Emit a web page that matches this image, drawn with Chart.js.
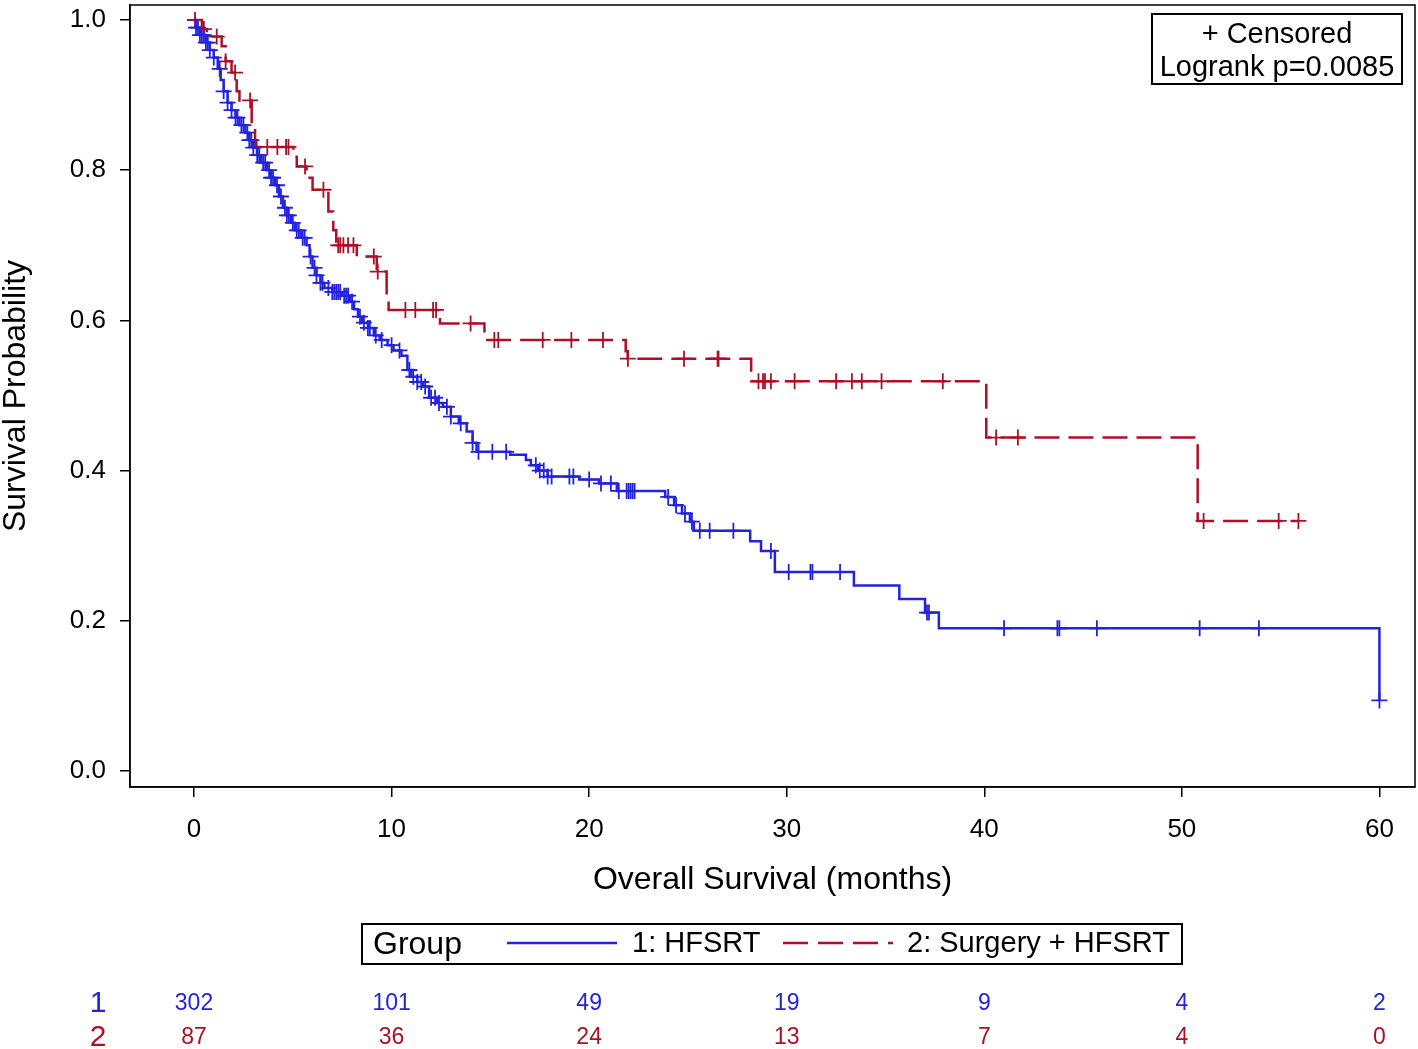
<!DOCTYPE html>
<html>
<head>
<meta charset="utf-8">
<script src="https://cdn.jsdelivr.net/npm/chart.js@4/dist/chart.umd.min.js"></script>
<style>
    html, body { margin: 0; padding: 0; background: #fff; }
    #wrap { width: 1418px; height: 1049px; position: relative; }
</style>
</head>
<body>
<div id="wrap"><canvas id="km" width="1418" height="1049"></canvas></div>
<script>
// group 1: HFSRT - event times (months) and survival after each step
var blueTimes = [0, 0.1, 0.3, 0.6, 0.8, 1.0, 1.2, 1.35, 1.5, 1.7, 1.9, 2.1, 2.3, 2.6, 2.8, 3.0, 3.2, 3.4, 3.7, 3.9, 4.1, 4.3, 4.5, 4.7, 4.9, 5.1, 5.4, 5.7, 5.85, 6.0, 6.2, 6.4, 6.6, 7.0, 7.5, 7.9, 8.1, 8.3, 8.5, 8.8, 9.1, 9.4, 9.8, 10.1, 10.5, 10.8, 11.0, 11.3, 11.6, 11.9, 12.3, 12.6, 13.0, 13.4, 13.8, 14.1, 14.3, 16.0, 16.8, 17.05, 17.4, 17.9, 19.5, 20.5, 21.4, 23.85, 24.3, 24.7, 25.1, 25.3, 28.15, 28.7, 29.4, 33.4, 35.7, 37.0, 37.7, 60.0];
var blueSurv = [1.0, 0.99, 0.98, 0.97, 0.96, 0.95, 0.935, 0.92, 0.905, 0.89, 0.88, 0.87, 0.86, 0.85, 0.84, 0.83, 0.82, 0.81, 0.80, 0.79, 0.78, 0.765, 0.75, 0.74, 0.73, 0.72, 0.71, 0.70, 0.685, 0.67, 0.66, 0.65, 0.643, 0.638, 0.633, 0.625, 0.615, 0.605, 0.597, 0.59, 0.58, 0.574, 0.567, 0.56, 0.553, 0.534, 0.525, 0.518, 0.512, 0.497, 0.49, 0.485, 0.472, 0.463, 0.452, 0.437, 0.425, 0.421, 0.414, 0.407, 0.40, 0.392, 0.388, 0.383, 0.373, 0.365, 0.354, 0.343, 0.332, 0.320, 0.306, 0.293, 0.265, 0.247, 0.229, 0.211, 0.19, 0.094];
var blueCensor = [0.1, 0.2, 0.3, 0.4, 0.5, 0.6, 0.7, 0.8, 1.0, 1.3, 1.5, 1.7, 1.9, 2.1, 2.2, 2.4, 2.5, 2.7, 2.8, 2.9, 3.0, 3.2, 3.3, 3.5, 3.6, 3.8, 3.9, 4.0, 4.2, 4.4, 4.6, 4.7, 4.8, 5.0, 5.2, 5.3, 5.5, 5.6, 5.9, 6.1, 6.2, 6.4, 6.5, 6.8, 7.0, 7.1, 7.2, 7.3, 7.4, 7.6, 7.7, 7.8, 8.0, 8.4, 8.6, 8.8, 8.9, 9.2, 9.5, 10.0, 10.4, 10.9, 11.1, 11.3, 11.5, 11.7, 12.0, 12.2, 12.4, 12.8, 13.0, 13.5, 14.1, 14.4, 15.1, 15.8, 17.3, 17.5, 17.7, 17.9, 18.1, 19.0, 19.2, 20.0, 20.6, 21.1, 21.5, 21.9, 22.0, 22.1, 22.2, 22.3, 24.0, 24.4, 24.85, 25.2, 25.6, 26.1, 27.3, 29.2, 30.1, 31.2, 31.3, 32.7, 37.1, 37.2, 41.0, 43.7, 43.8, 45.7, 50.9, 53.9, 60.0];

// group 2: Surgery + HFSRT
var redTimes = [0, 0.4, 0.65, 1.4, 1.6, 1.9, 2.16, 2.3, 2.92, 3.09, 5.03, 5.2, 5.7, 6.0, 6.8, 7.05, 7.2, 8.24, 9.25, 9.75, 9.85, 12.45, 14.7, 21.85, 21.95, 28.2, 40.1, 50.8, 55.9];
var redSurv = [1.0, 0.988, 0.978, 0.965, 0.945, 0.93, 0.905, 0.893, 0.856, 0.831, 0.818, 0.805, 0.79, 0.774, 0.745, 0.72, 0.70, 0.685, 0.665, 0.632, 0.614, 0.596, 0.574, 0.559, 0.549, 0.519, 0.444, 0.333, 0.333];
var redCensor = [0.05, 0.5, 1.15, 1.6, 2.08, 2.84, 3.17, 3.71, 4.22, 4.66, 4.78, 5.62, 6.55, 7.3, 7.4, 7.56, 7.8, 8.07, 9.1, 9.3, 10.7, 11.2, 12.1, 12.25, 14.0, 15.2, 15.4, 17.65, 19.1, 20.7, 21.96, 24.8, 26.5, 26.55, 28.57, 28.8, 28.9, 29.2, 30.4, 32.5, 33.3, 33.8, 34.8, 37.9, 40.6, 41.7, 51.1, 54.9, 55.9];

var xTicks = [0, 10, 20, 30, 40, 50, 60];
var yTicks = [0, 0.2, 0.4, 0.6, 0.8, 1.0];
var riskBlue = [302, 101, 49, 19, 9, 4, 2];
var riskRed = [87, 36, 24, 13, 7, 4, 0];

var BLUE = "#2323dc";
var RED = "#ab1027";
var FONT = "'Liberation Sans', Arial, sans-serif";

function survAt(times, surv, t) {
    var s = surv[0];
    for (var i = 0; i < times.length; i++) {
        if (times[i] <= t) s = surv[i];
    }
    return s;
}

function curve(times, surv) {
    return times.map((t, i) => ({ x: t, y: surv[i] }));
}

function marks(censor, times, surv) {
    return censor.map(t => ({ x: t, y: survAt(times, surv, t) }));
}

var extras = {
    id: "extras",
    afterDraw(chart) {
        var ctx = chart.ctx;
        var a = chart.chartArea;
        var xs = chart.scales.x;
        ctx.save();

        // frame round the plot
        ctx.strokeStyle = "#000";
        ctx.lineWidth = 1.5;
        ctx.strokeRect(a.left, a.top, a.right - a.left, a.bottom - a.top);

        // censored / logrank box
        ctx.lineWidth = 2;
        ctx.strokeRect(1152, 14, 250, 70);
        ctx.fillStyle = "#000";
        ctx.font = "29px " + FONT;
        ctx.textAlign = "center";
        ctx.textBaseline = "middle";
        ctx.fillText("+ Censored", 1277, 35);
        ctx.fillText("Logrank p=0.0085", 1277, 68);

        // group legend
        ctx.strokeRect(362, 924, 820, 40);
        ctx.textAlign = "left";
        ctx.font = "32px " + FONT;
        ctx.fillText("Group", 373, 945);
        ctx.font = "29px " + FONT;
        ctx.fillText("1: HFSRT", 632, 944);
        ctx.fillText("2: Surgery + HFSRT", 907, 944);
        ctx.lineWidth = 2.5;
        ctx.strokeStyle = BLUE;
        ctx.beginPath();
        ctx.moveTo(507, 943);
        ctx.lineTo(617, 943);
        ctx.stroke();
        ctx.strokeStyle = RED;
        ctx.setLineDash([25, 10]);
        ctx.beginPath();
        ctx.moveTo(783, 943);
        ctx.lineTo(893, 943);
        ctx.stroke();
        ctx.setLineDash([]);

        // number at risk
        ctx.textAlign = "center";
        ctx.font = "30px " + FONT;
        ctx.fillStyle = BLUE;
        ctx.fillText("1", 98, 1004);
        ctx.fillStyle = RED;
        ctx.fillText("2", 98, 1038);
        ctx.font = "23px 'Liberation Sans Narrow', " + FONT;
        xTicks.forEach((v, i) => {
            var px = xs.getPixelForValue(v);
            ctx.fillStyle = BLUE;
            ctx.fillText(String(riskBlue[i]), px, 1004);
            ctx.fillStyle = RED;
            ctx.fillText(String(riskRed[i]), px, 1038);
        });
        ctx.restore();
    }
};

new Chart(document.getElementById("km"), {
    type: "scatter",
    data: {
        datasets: [
            {
                label: "1: HFSRT",
                data: curve(blueTimes, blueSurv),
                showLine: true,
                stepped: true,
                borderColor: BLUE,
                borderWidth: 2.5,
                pointRadius: 0
            },
            {
                label: "2: Surgery + HFSRT",
                data: curve(redTimes, redSurv),
                showLine: true,
                stepped: true,
                borderColor: RED,
                borderWidth: 2.5,
                borderDash: [25, 9],
                pointRadius: 0
            },
            {
                label: "censor 1",
                data: marks(blueCensor, blueTimes, blueSurv),
                showLine: false,
                pointStyle: "cross",
                pointRadius: 8,
                borderWidth: 1.8,
                borderColor: BLUE,
                backgroundColor: BLUE
            },
            {
                label: "censor 2",
                data: marks(redCensor, redTimes, redSurv),
                showLine: false,
                pointStyle: "cross",
                pointRadius: 8,
                borderWidth: 1.8,
                borderColor: RED,
                backgroundColor: RED
            }
        ]
    },
    options: {
        responsive: false,
        animation: false,
        layout: { autoPadding: false, padding: { left: 0, right: 3, top: 5, bottom: 149 } },
        plugins: {
            legend: { display: false },
            tooltip: { enabled: false }
        },
        scales: {
            x: {
                type: "linear",
                min: -3.24,
                max: 61.8,
                afterBuildTicks: s => { s.ticks = xTicks.map(v => ({ value: v })); },
                afterFit: s => { s.height = 113; s.paddingLeft = 0; s.paddingRight = 0; },
                grid: { drawOnChartArea: false, drawTicks: true, tickLength: 10, color: "#000", lineWidth: 1.5 },
                border: { display: true, color: "#000", width: 1.5 },
                ticks: { color: "#000", font: { family: FONT, size: 26 }, padding: 17, maxRotation: 0 },
                title: { display: true, text: "Overall Survival (months)", color: "#000", font: { family: FONT, size: 32, lineHeight: 1 }, padding: { top: 0, bottom: 4 } }
            },
            y: {
                type: "linear",
                min: -0.0213,
                max: 1.02,
                afterBuildTicks: s => { s.ticks = yTicks.map(v => ({ value: v })); },
                afterFit: s => { s.width = 130; s.paddingTop = 0; s.paddingBottom = 0; },
                grid: { drawOnChartArea: false, drawTicks: true, tickLength: 10, color: "#000", lineWidth: 1.5 },
                border: { display: true, color: "#000", width: 1.5 },
                ticks: { color: "#000", font: { family: FONT, size: 26 }, padding: 14, callback: v => v.toFixed(1) },
                title: { display: true, text: "Survival Probability", color: "#000", font: { family: FONT, size: 32, lineHeight: 1 }, padding: { top: 0, bottom: 0 } }
            }
        }
    },
    plugins: [extras]
});
</script>
</body>
</html>
